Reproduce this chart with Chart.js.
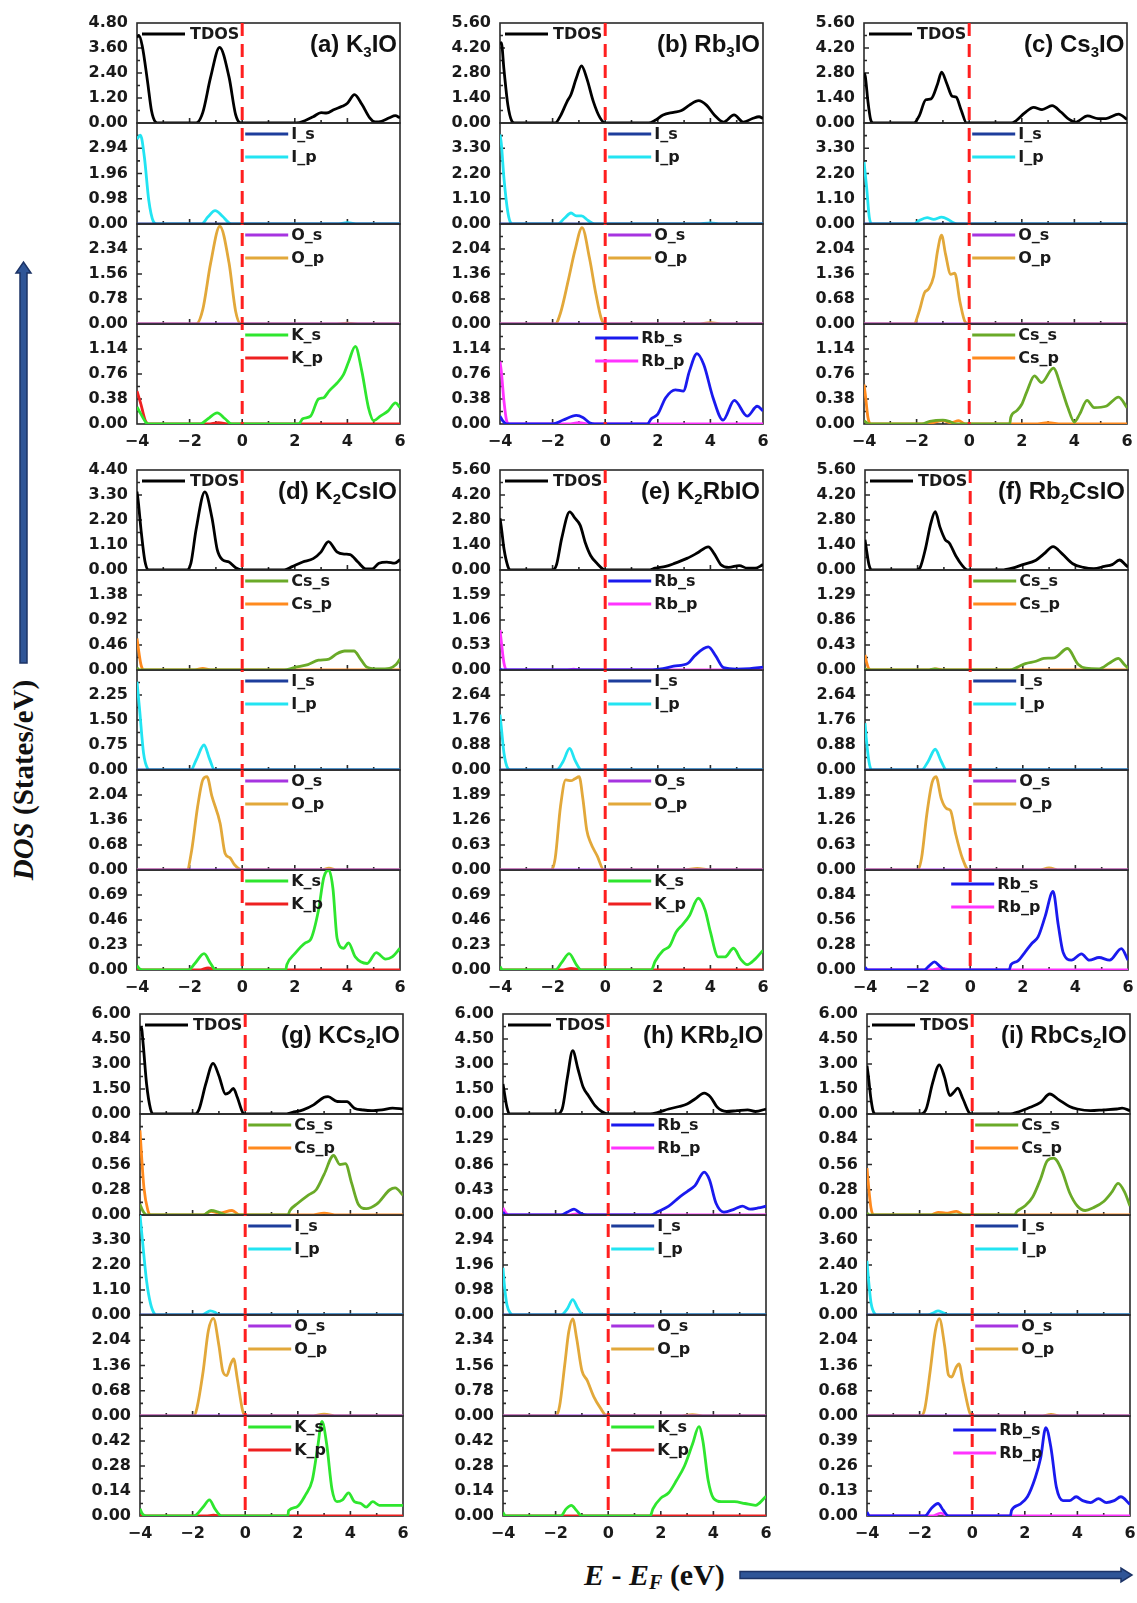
<!DOCTYPE html>
<html>
<head>
<meta charset="utf-8">
<script src="https://cdn.jsdelivr.net/npm/chart.js@4/dist/chart.umd.min.js"></script>
<style>
  html, body { margin: 0; padding: 0; background: #fff; }
  body { width: 1137px; height: 1603px; position: relative; overflow: hidden; }
  canvas.sub { position: absolute; }
  .title { position: absolute; font-family: "Liberation Sans", Arial, sans-serif; font-weight: bold;
           font-size: 24px; line-height: 24px; color: #111; white-space: nowrap; }
  .title .s { font-size: 15px; position: relative; top: 5px; }
  #ylab { position: absolute; left: -107px; top: 763px; width: 260px; height: 34px; line-height: 34px;
          text-align: center; transform: rotate(-90deg); font-family: "Liberation Serif", "Times New Roman", serif;
          font-weight: bold; font-size: 29px; color: #111; white-space: nowrap; }
  #xlab { position: absolute; left: 584px; top: 1557px; height: 36px; line-height: 36px;
          font-family: "Liberation Serif", "Times New Roman", serif; font-weight: bold; font-size: 30px;
          color: #111; white-space: nowrap; }
  #xlab sub { font-size: 20px; vertical-align: -4px; line-height: 0; }
  #arrows { position: absolute; left: 0; top: 0; }
</style>
</head>
<body>
<svg id="arrows" width="1137" height="1603">
  <polygon points="20,663 27,663 27,273 31,273 23.5,262 16,273 20,273" fill="#2f5597" stroke="#1c3366" stroke-width="1.5"/>
  <polygon points="740,1571.5 1121,1571.5 1121,1568 1132,1575 1121,1582 1121,1578.5 740,1578.5" fill="#2f5597" stroke="#1c3366" stroke-width="1.5"/>
</svg>
<div id="ylab"><i>DOS</i> (States/eV)</div>
<div id="xlab"><i>E</i> - <i>E<sub>F</sub></i> (eV)</div>
<script>
// ---------- energy axis ----------
const energyTicks = [-4, -2, 0, 2, 4, 6];
const flat = [[-4, 0], [6, 0]];

// ---------- (a) K3IO ----------
const stepsA = [1.20, 0.98, 0.78, 0.38];
const tdosA = [[-4,4.1],[-3.93,4.2],[-3.8,3.7],[-3.6,2.0],[-3.45,0.6],[-3.3,0.05],[-3.2,0],[-1.75,0],[-1.5,0.5],[-1.2,2.2],[-0.86,3.63],[-0.5,2.2],[-0.25,0.4],[-0.05,0],[2.05,0],[2.4,0.12],[2.7,0.3],[3.0,0.5],[3.2,0.48],[3.5,0.65],[3.8,0.8],[4.0,0.95],[4.27,1.36],[4.55,0.9],[4.85,0.25],[5.05,0.05],[5.3,0.08],[5.6,0.25],[5.82,0.35],[6,0.25]];
const ipA = [[-4,3.3],[-3.87,3.45],[-3.72,2.6],[-3.55,0.9],[-3.38,0.1],[-3.25,0],[-1.55,0],[-1.3,0.28],[-1.03,0.52],[-0.75,0.3],[-0.5,0.04],[-0.4,0],[3.6,0],[4.0,0.05],[4.4,0],[6,0]];
const opA = [[-4,0],[-1.75,0],[-1.5,0.45],[-1.2,1.9],[-0.85,3.05],[-0.5,1.9],[-0.25,0.4],[-0.05,0],[3.5,0],[4.0,0.03],[4.5,0],[6,0]];
const ksA = [[-4,0.26],[-3.85,0.15],[-3.65,0.02],[-3.5,0],[-1.6,0],[-1.3,0.08],[-0.95,0.17],[-0.65,0.08],[-0.4,0],[2.15,0],[2.3,0.08],[2.6,0.12],[2.9,0.38],[3.1,0.4],[3.3,0.5],[3.6,0.62],[3.85,0.75],[4.05,0.95],[4.3,1.18],[4.55,0.8],[4.8,0.25],[5.0,0.05],[5.25,0.12],[5.55,0.2],[5.83,0.32],[6,0.25]];
const kpA = [[-4,0.5],[-3.85,0.3],[-3.7,0.07],[-3.55,0],[-1.3,0],[-0.9,0.02],[-0.5,0],[6,0]];

// ---------- (b) Rb3IO ----------
const stepsB = [1.40, 1.10, 0.68, 0.38];
const tdosB = [[-4,4.4],[-3.95,4.5],[-3.85,3.0],[-3.7,1.0],[-3.55,0.1],[-3.45,0],[-1.9,0],[-1.7,0.4],[-1.45,1.2],[-1.3,1.6],[-1.1,2.5],[-0.9,3.2],[-0.7,2.5],[-0.45,1.2],[-0.2,0.3],[0,0],[1.65,0],[1.9,0.15],[2.2,0.45],[2.6,0.6],[2.9,0.7],[3.2,1.0],[3.55,1.25],[3.85,1.0],[4.15,0.45],[4.5,0.05],[4.9,0.45],[5.25,0.05],[5.6,0.25],[5.85,0.35],[6,0.25]];
const ipB = [[-4,3.9],[-3.95,3.5],[-3.85,2.0],[-3.7,0.5],[-3.58,0.03],[-3.5,0],[-1.8,0],[-1.55,0.25],[-1.3,0.48],[-1.1,0.35],[-0.9,0.35],[-0.65,0.15],[-0.4,0],[3.5,0],[4,0.05],[4.4,0],[6,0]];
const opB = [[-4,0],[-1.9,0],[-1.7,0.3],[-1.4,1.2],[-1.15,2.0],[-0.88,2.62],[-0.6,1.8],[-0.35,0.8],[-0.15,0.15],[0,0],[3.5,0],[4,0.04],[4.5,0],[6,0]];
const rbsB = [[-4,0.12],[-3.9,0.05],[-3.75,0],[-2.0,0],[-1.6,0.06],[-1.1,0.13],[-0.85,0.1],[-0.6,0.02],[-0.4,0],[1.6,0],[1.75,0.08],[2.0,0.15],[2.3,0.4],[2.67,0.52],[2.97,0.5],[3.2,0.8],[3.49,1.07],[3.75,0.9],[4.1,0.4],[4.48,0.06],[4.91,0.36],[5.4,0.12],[5.78,0.27],[6,0.2]];
const rbpB = [[-4,0.95],[-3.95,0.8],[-3.85,0.35],[-3.75,0.05],[-3.65,0],[-1.4,0],[-1.0,0.02],[-0.6,0],[6,0]];

// ---------- (c) Cs3IO ----------
const stepsC = [1.40, 1.10, 0.68, 0.38];
const tdosC = [[-4,2.8],[-3.95,2.6],[-3.85,1.2],[-3.75,0.2],[-3.65,0],[-2.1,0],[-1.9,0.4],[-1.65,1.3],[-1.45,1.35],[-1.2,2.2],[-1.05,2.85],[-0.85,2.2],[-0.65,1.5],[-0.5,1.45],[-0.3,0.7],[-0.1,0],[1.6,0],[1.8,0.15],[2.1,0.55],[2.45,0.88],[2.77,0.75],[3.15,0.97],[3.5,0.6],[3.8,0.2],[4.04,0.05],[4.5,0.4],[4.9,0.25],[5.2,0.25],[5.68,0.5],[6,0.2]];
const ipC = [[-4,2.7],[-3.9,1.6],[-3.8,0.3],[-3.7,0],[-2.1,0],[-1.9,0.15],[-1.6,0.28],[-1.35,0.2],[-1.05,0.3],[-0.8,0.2],[-0.6,0.05],[-0.45,0],[6,0]];
const opC = [[-4,0],[-2.1,0],[-1.9,0.35],[-1.7,0.85],[-1.55,0.95],[-1.35,1.3],[-1.2,2.0],[-1.05,2.42],[-0.9,1.9],[-0.7,1.35],[-0.55,1.38],[-0.35,0.6],[-0.15,0.05],[0,0],[6,0]];
const cssC = [[-4,0.05],[-3.9,0.02],[-3.8,0],[-1.8,0],[-1.5,0.04],[-1.0,0.06],[-0.7,0.03],[-0.5,0],[1.54,0],[1.58,0.1],[1.8,0.2],[2.0,0.3],[2.2,0.5],[2.48,0.73],[2.75,0.63],[3.2,0.85],[3.5,0.55],[3.75,0.25],[4.0,0.03],[4.2,0.15],[4.48,0.36],[4.75,0.25],[5.2,0.27],[5.68,0.41],[6,0.25]];
const cspC = [[-4,0.6],[-3.95,0.45],[-3.85,0.1],[-3.75,0],[-1.6,0],[-1.3,0.03],[-1.0,0.05],[-0.7,0.02],[-0.4,0.05],[-0.15,0],[2.5,0],[3,0.02],[3.5,0],[6,0]];

// ---------- (d) K2CsIO ----------
const stepsD = [1.10, 0.46, 0.75, 0.68, 0.23];
const tdosD = [[-4,3.45],[-3.95,3.0],[-3.85,1.8],[-3.7,0.4],[-3.55,0],[-2.1,0],[-1.95,0.3],[-1.75,1.8],[-1.42,3.44],[-1.15,2.3],[-0.95,0.9],[-0.75,0.45],[-0.5,0.35],[-0.25,0.1],[0,0],[1.6,0],[1.9,0.15],[2.3,0.35],[2.7,0.5],[3.0,0.8],[3.28,1.25],[3.6,0.8],[3.9,0.7],[4.1,0.68],[4.4,0.35],[4.7,0.05],[4.95,0.05],[5.2,0.3],[5.5,0.35],[5.8,0.3],[6,0.45]];
const cssD = [[-4,0.04],[-3.9,0],[1.6,0],[2.0,0.05],[2.5,0.1],[2.9,0.18],[3.3,0.2],[3.6,0.3],[3.9,0.35],[4.25,0.35],[4.5,0.2],[4.75,0.05],[5.2,0.02],[5.6,0.03],[5.85,0.1],[6,0.2]];
const cspD = [[-4,0.58],[-3.95,0.4],[-3.85,0.1],[-3.75,0],[-1.8,0],[-1.5,0.03],[-1.2,0],[6,0]];
const ipD = [[-4,2.65],[-3.9,1.8],[-3.75,0.5],[-3.6,0.05],[-3.5,0],[-1.95,0],[-1.75,0.3],[-1.45,0.75],[-1.25,0.35],[-1.05,0],[6,0]];
const opD = [[-4,0],[-2.1,0],[-1.92,0.54],[-1.7,1.7],[-1.5,2.45],[-1.34,2.54],[-1.15,2.0],[-0.84,1.27],[-0.65,0.45],[-0.46,0.33],[-0.3,0.15],[0,0],[3.0,0],[3.3,0.05],[3.6,0],[6,0]];
const ksD = [[-4,0.04],[-3.9,0.01],[-3.8,0],[-2.05,0],[-1.8,0.06],[-1.45,0.15],[-1.2,0.06],[-1.0,0],[1.65,0],[1.7,0.05],[2.0,0.15],[2.4,0.25],[2.6,0.28],[2.9,0.55],[3.1,0.85],[3.29,0.92],[3.45,0.75],[3.61,0.29],[3.86,0.2],[4.04,0.25],[4.3,0.12],[4.75,0.06],[5.1,0.16],[5.45,0.1],[5.7,0.12],[6,0.2]];
const kpD = [[-4,0],[-1.6,0],[-1.3,0.02],[-1.0,0],[6,0]];

// ---------- (e) K2RbIO ----------
const stepsE = [1.40, 0.53, 0.88, 0.63, 0.23];
const tdosE = [[-4,2.9],[-3.95,2.4],[-3.85,1.2],[-3.7,0.2],[-3.6,0],[-2.0,0],[-1.85,0.3],[-1.65,1.8],[-1.35,3.25],[-1.15,2.9],[-0.95,2.5],[-0.75,1.5],[-0.55,0.8],[-0.3,0.35],[0,0],[1.65,0],[1.9,0.1],[2.3,0.2],[2.6,0.35],[3.11,0.65],[3.5,0.95],[3.92,1.3],[4.15,0.9],[4.4,0.3],[4.7,0.15],[5.1,0.25],[5.4,0.1],[5.7,0.1],[6,0.3]];
const rbsE = [[-4,0.02],[-3.9,0],[1.7,0],[2.2,0.03],[2.6,0.08],[3.14,0.14],[3.4,0.3],[3.92,0.49],[4.2,0.3],[4.5,0.05],[5.0,0.02],[5.5,0.03],[6,0.06]];
const rbpE = [[-4,0.85],[-3.95,0.6],[-3.85,0.15],[-3.75,0],[-1.5,0],[-1.2,0.02],[-0.9,0],[6,0]];
const ipE = [[-4,1.95],[-3.95,1.5],[-3.85,0.6],[-3.7,0.05],[-3.6,0],[-1.85,0],[-1.6,0.3],[-1.35,0.76],[-1.15,0.35],[-0.9,0],[6,0]];
const opE = [[-4,0],[-2.05,0],[-1.9,0.3],[-1.7,1.6],[-1.5,2.27],[-1.3,2.25],[-1.15,2.3],[-0.99,2.35],[-0.85,1.8],[-0.7,1.0],[-0.57,0.71],[-0.3,0.35],[-0.05,0],[3,0],[3.5,0.04],[4,0],[6,0]];
const ksE = [[-4,0.03],[-3.9,0],[-1.9,0],[-1.65,0.07],[-1.37,0.15],[-1.1,0.05],[-0.9,0],[1.75,0],[1.9,0.08],[2.2,0.18],[2.45,0.22],[2.7,0.35],[2.95,0.42],[3.2,0.5],[3.54,0.66],[3.8,0.55],[4.0,0.35],[4.3,0.12],[4.55,0.12],[4.88,0.2],[5.15,0.1],[5.4,0.05],[5.7,0.1],[6,0.18]];
const kpE = [[-4,0],[-1.6,0],[-1.3,0.015],[-0.9,0],[6,0]];

// ---------- (f) Rb2CsIO ----------
const stepsF = [1.40, 0.43, 0.88, 0.63, 0.28];
const tdosF = [[-4,1.7],[-3.95,1.2],[-3.85,0.3],[-3.75,0],[-2.05,0],[-1.9,0.15],[-1.7,1.2],[-1.5,2.6],[-1.33,3.27],[-1.15,2.4],[-0.95,1.7],[-0.79,1.5],[-0.55,0.8],[-0.3,0.25],[-0.1,0],[1.2,0],[1.6,0.1],[2.0,0.3],[2.5,0.55],[2.8,0.9],[3.15,1.31],[3.5,0.9],[3.9,0.35],[4.3,0.15],[4.7,0.08],[5.1,0.2],[5.4,0.3],[5.68,0.56],[5.9,0.3],[6,0.15]];
const cssF = [[-4,0.02],[-3.9,0],[-1.6,0],[-1.35,0.02],[-1.1,0],[1.5,0],[1.8,0.05],[2.1,0.11],[2.5,0.15],[2.8,0.2],[3.2,0.21],[3.7,0.37],[4.1,0.1],[4.4,0.03],[4.9,0.02],[5.3,0.12],[5.63,0.2],[5.85,0.1],[6,0.03]];
const cspF = [[-4,0.26],[-3.95,0.15],[-3.85,0.02],[-3.75,0],[-1.6,0],[-1.3,0.02],[-1.0,0],[6,0]];
const ipF = [[-4,1.65],[-3.95,1.1],[-3.85,0.3],[-3.75,0],[-1.85,0],[-1.6,0.3],[-1.33,0.73],[-1.1,0.3],[-0.9,0],[6,0]];
const opF = [[-4,0],[-2.0,0],[-1.85,0.3],[-1.65,1.4],[-1.45,2.2],[-1.3,2.35],[-1.1,1.8],[-0.9,1.55],[-0.75,1.5],[-0.55,0.9],[-0.3,0.3],[-0.05,0],[2.6,0],[3.0,0.05],[3.4,0],[6,0]];
const rbsF = [[-4,0.03],[-3.9,0],[-1.75,0],[-1.55,0.05],[-1.36,0.09],[-1.15,0.04],[-0.95,0],[1.48,0],[1.55,0.06],[1.8,0.1],[2.06,0.19],[2.35,0.3],[2.58,0.37],[2.85,0.6],[3.15,0.88],[3.35,0.5],[3.53,0.2],[3.85,0.11],[4.23,0.18],[4.53,0.11],[4.9,0.14],[5.3,0.11],[5.75,0.24],[6,0.11]];
const rbpF = [[-4,0],[-1.5,0],[-1.1,0.02],[-0.7,0],[6,0]];

// ---------- (g) KCs2IO ----------
const stepsG = [1.50, 0.28, 1.10, 0.68, 0.14];
const tdosG = [[-4,5.0],[-3.95,5.2],[-3.88,4.2],[-3.75,1.8],[-3.6,0.3],[-3.5,0],[-1.9,0],[-1.75,0.3],[-1.5,1.8],[-1.22,3.04],[-1.0,2.3],[-0.75,1.2],[-0.6,1.3],[-0.45,1.54],[-0.3,1.0],[-0.1,0.1],[0,0],[1.5,0],[1.8,0.1],[2.2,0.25],[2.6,0.55],[3.0,1.0],[3.15,1.04],[3.5,0.75],[3.87,0.74],[4.15,0.35],[4.5,0.24],[4.8,0.2],[5.2,0.25],[5.6,0.35],[6,0.3]];
const cssG = [[-4,0.12],[-3.9,0.05],[-3.75,0],[-1.6,0],[-1.3,0.05],[-1.0,0.03],[-0.7,0],[1.62,0],[1.7,0.05],[2.0,0.13],[2.4,0.22],[2.7,0.28],[3.0,0.45],[3.36,0.66],[3.6,0.56],[3.81,0.57],[4.05,0.35],[4.3,0.12],[4.6,0.07],[5.0,0.12],[5.5,0.28],[5.7,0.3],[6,0.22]];
const cspG = [[-4,0.94],[-3.95,0.7],[-3.85,0.3],[-3.7,0.05],[-3.6,0],[-1.6,0],[-1.3,0.04],[-1.0,0.02],[-0.5,0.05],[-0.2,0],[2.5,0],[3,0.02],[3.5,0],[6,0]];
const ipG = [[-4,4.4],[-3.9,3.2],[-3.75,1.5],[-3.6,0.5],[-3.45,0.05],[-3.36,0],[-1.65,0],[-1.45,0.12],[-1.33,0.18],[-1.15,0.12],[-1.0,0],[6,0]];
const opG = [[-4,0],[-1.95,0],[-1.84,0.2],[-1.6,1.2],[-1.4,2.3],[-1.21,2.63],[-1.0,1.9],[-0.85,1.2],[-0.7,1.09],[-0.55,1.4],[-0.44,1.54],[-0.3,1.0],[-0.1,0.15],[0,0],[2.5,0],[3,0.05],[3.5,0],[6,0]];
const ksG = [[-4,0.04],[-3.9,0.01],[-3.75,0],[-1.95,0],[-1.6,0.05],[-1.36,0.09],[-1.15,0.04],[-0.9,0],[1.62,0],[1.65,0.03],[1.95,0.05],[2.3,0.12],[2.55,0.2],[2.75,0.38],[2.92,0.53],[3.1,0.4],[3.3,0.15],[3.49,0.08],[3.7,0.09],[3.93,0.13],[4.15,0.08],[4.4,0.07],[4.6,0.05],[4.85,0.08],[5.1,0.06],[5.5,0.06],[6,0.06]];
const kpG = [[-4,0],[-1.5,0],[-1.2,0.005],[-0.9,0],[6,0]];

// ---------- (h) KRb2IO ----------
const stepsH = [1.50, 0.43, 0.98, 0.78, 0.14];
const tdosH = [[-4,1.8],[-3.95,1.3],[-3.85,0.4],[-3.75,0],[-1.95,0],[-1.75,0.3],[-1.55,2.2],[-1.35,3.8],[-1.15,2.7],[-0.95,1.6],[-0.75,1.1],[-0.5,0.5],[-0.25,0.15],[0,0],[1.6,0],[1.9,0.1],[2.3,0.3],[2.7,0.45],[3.0,0.6],[3.3,0.9],[3.65,1.25],[3.9,1.0],[4.15,0.4],[4.5,0.15],[4.9,0.2],[5.3,0.25],[5.6,0.15],[6,0.3]];
const rbsH = [[-4,0.05],[-3.9,0],[-1.8,0],[-1.55,0.05],[-1.3,0.1],[-1.05,0.03],[-0.8,0],[1.6,0],[1.9,0.06],[2.3,0.15],[2.7,0.3],[3.0,0.4],[3.3,0.5],[3.65,0.73],[3.85,0.6],[4.1,0.2],[4.4,0.05],[4.8,0.1],[5.1,0.15],[5.4,0.1],[5.7,0.12],[6,0.15]];
const rbpH = [[-4,0.12],[-3.9,0.04],[-3.8,0],[-1.5,0],[-1.2,0.02],[-0.9,0],[6,0]];
const ipH = [[-4,1.85],[-3.95,1.2],[-3.85,0.4],[-3.7,0.05],[-3.6,0],[-1.8,0],[-1.55,0.25],[-1.35,0.6],[-1.15,0.25],[-0.95,0],[6,0]];
const opH = [[-4,0],[-2.0,0],[-1.85,0.3],[-1.65,1.6],[-1.5,2.6],[-1.35,3.0],[-1.2,2.4],[-1.0,1.4],[-0.8,1.1],[-0.55,0.6],[-0.3,0.25],[-0.05,0],[2.7,0],[3.2,0.04],[3.7,0],[6,0]];
const ksH = [[-4,0.02],[-3.9,0],[-1.8,0],[-1.6,0.04],[-1.4,0.06],[-1.2,0.03],[-1.0,0],[1.6,0],[1.7,0.04],[2.0,0.1],[2.3,0.13],[2.6,0.2],[2.9,0.28],[3.2,0.4],[3.45,0.5],[3.6,0.42],[3.8,0.2],[4.0,0.1],[4.3,0.08],[4.8,0.08],[5.2,0.07],[5.6,0.06],[6,0.11]];
const kpH = flat;

// ---------- (i) RbCs2IO ----------
const stepsI = [1.50, 0.28, 1.20, 0.68, 0.13];
const tdosI = [[-4,2.9],[-3.95,2.3],[-3.85,0.9],[-3.75,0.1],[-3.65,0],[-1.95,0],[-1.75,0.3],[-1.5,1.9],[-1.25,2.95],[-1.05,2.2],[-0.85,1.1],[-0.7,1.3],[-0.55,1.55],[-0.35,0.9],[-0.1,0.05],[0,0],[1.4,0],[1.8,0.15],[2.2,0.4],[2.6,0.7],[2.95,1.2],[3.3,0.85],[3.7,0.45],[4.0,0.3],[4.5,0.2],[5.0,0.25],[5.5,0.3],[5.7,0.35],[6,0.2]];
const cssI = [[-4,0.02],[-3.9,0],[1.6,0],[1.7,0.04],[2.0,0.1],[2.3,0.2],[2.6,0.4],[2.85,0.6],[3.1,0.63],[3.4,0.5],[3.7,0.25],[4.0,0.1],[4.3,0.05],[4.6,0.08],[5.0,0.15],[5.3,0.25],[5.55,0.35],[5.8,0.25],[6,0.1]];
const cspI = [[-4,0.52],[-3.95,0.35],[-3.85,0.08],[-3.75,0],[-1.6,0],[-1.3,0.03],[-1.0,0.02],[-0.6,0.04],[-0.3,0],[6,0]];
const ipI = [[-4,2.6],[-3.95,1.8],[-3.85,0.6],[-3.7,0.05],[-3.6,0],[-1.7,0],[-1.45,0.12],[-1.3,0.2],[-1.1,0.1],[-0.9,0],[6,0]];
const opI = [[-4,0],[-1.95,0],[-1.8,0.2],[-1.6,1.2],[-1.4,2.3],[-1.25,2.62],[-1.05,1.9],[-0.9,1.1],[-0.78,1.05],[-0.62,1.3],[-0.5,1.4],[-0.35,0.9],[-0.1,0.1],[0,0],[2.6,0],[3.0,0.04],[3.4,0],[6,0]];
const rbsI = [[-4,0.02],[-3.9,0],[-1.8,0],[-1.55,0.04],[-1.3,0.065],[-1.1,0.03],[-0.9,0],[1.45,0],[1.5,0.03],[1.8,0.06],[2.1,0.1],[2.4,0.2],[2.6,0.3],[2.8,0.46],[3.0,0.35],[3.2,0.15],[3.45,0.08],[3.7,0.08],[3.95,0.1],[4.2,0.08],[4.5,0.07],[4.8,0.09],[5.1,0.07],[5.4,0.08],[5.65,0.1],[6,0.06]];
const rbpI = [[-4,0],[-1.5,0],[-1.2,0.015],[-0.9,0],[6,0]];

// ---------- colours ----------
const C = {
  tdos: '#000000', is: '#1d3d9c', ip: '#22e4f2', os: '#a634e0', op: '#e2a83a',
  ks: '#2ee62e', kp: '#ee2020', rbs: '#1a1aee', rbp: '#ff33ff', css: '#6aaa28', csp: '#ff8a1e'
};

// ---------- layout ----------
const PLOT_W = 263;
const rows = [
  { top: 23, bottom: 424, n: 4, lefts: [137, 500, 864] },
  { top: 470, bottom: 970, n: 5, lefts: [137, 500, 865] },
  { top: 1014, bottom: 1516, n: 5, lefts: [140, 503, 867] }
];

const S = (label, data, color) => ({ label, data, color });
const tdosSub = d => ({ items: [S('TDOS', d, C.tdos)], tdos: true });
const sub = (items, dx = 0, dy = 0) => ({ items, dx, dy });
const iSub = p => sub([S('I_s', flat, C.is), S('I_p', p, C.ip)]);
const oSub = p => sub([S('O_s', flat, C.os), S('O_p', p, C.op)]);
const kSub = (s, p) => sub([S('K_s', s, C.ks), S('K_p', p, C.kp)]);
const rbSub = (s, p, dx = 0, dy = 0) => sub([S('Rb_s', s, C.rbs), S('Rb_p', p, C.rbp)], dx, dy);
const csSub = (s, p) => sub([S('Cs_s', s, C.css), S('Cs_p', p, C.csp)]);

const panels = [
  { row: 0, col: 0, title: ['(a) K', '3', 'IO'], steps: stepsA,
    subs: [tdosSub(tdosA), iSub(ipA), oSub(opA), kSub(ksA, kpA)] },
  { row: 0, col: 1, title: ['(b) Rb', '3', 'IO'], steps: stepsB,
    subs: [tdosSub(tdosB), iSub(ipB), oSub(opB), rbSub(rbsB, rbpB, -13, 3)] },
  { row: 0, col: 2, title: ['(c) Cs', '3', 'IO'], steps: stepsC,
    subs: [tdosSub(tdosC), iSub(ipC), oSub(opC), csSub(cssC, cspC)] },
  { row: 1, col: 0, title: ['(d) K', '2', 'CsIO'], steps: stepsD,
    subs: [tdosSub(tdosD), csSub(cssD, cspD), iSub(ipD), oSub(opD), kSub(ksD, kpD)] },
  { row: 1, col: 1, title: ['(e) K', '2', 'RbIO'], steps: stepsE,
    subs: [tdosSub(tdosE), rbSub(rbsE, rbpE), iSub(ipE), oSub(opE), kSub(ksE, kpE)] },
  { row: 1, col: 2, title: ['(f) Rb', '2', 'CsIO'], steps: stepsF,
    subs: [tdosSub(tdosF), csSub(cssF, cspF), iSub(ipF), oSub(opF), rbSub(rbsF, rbpF, -22, 3)] },
  { row: 2, col: 0, title: ['(g) KCs', '2', 'IO'], steps: stepsG,
    subs: [tdosSub(tdosG), csSub(cssG, cspG), iSub(ipG), oSub(opG), kSub(ksG, kpG)] },
  { row: 2, col: 1, title: ['(h) KRb', '2', 'IO'], steps: stepsH,
    subs: [tdosSub(tdosH), rbSub(rbsH, rbpH), iSub(ipH), oSub(opH), kSub(ksH, kpH)] },
  { row: 2, col: 2, title: ['(i) RbCs', '2', 'IO'], steps: stepsI,
    subs: [tdosSub(tdosI), csSub(cssI, cspI), iSub(ipI), oSub(opI), rbSub(rbsI, rbpI, -22, 3)] }
];

// ---------- drawing ----------
const TICK_FONT = { family: '"DejaVu Sans", sans-serif', weight: 'bold', size: 16 };
const TEXT_COLOR = '#1a1a1a';
const AXIS_COLOR = '#2a2a2a';
const GUTTER = 110, PAD_T = 24, PAD_R = 16, PAD_B = 24, XAXIS_H = 34;

function fmtEnergy(v) { return v < 0 ? '\u2212' + Math.abs(v) : String(v); }

function decorPlugin(info) {
  return {
    id: 'decor',
    beforeDatasetsDraw(chart) {
      const { ctx, chartArea: a, scales: { x, y } } = chart;
      ctx.save();
      ctx.strokeStyle = AXIS_COLOR;
      ctx.lineWidth = 1.6;
      ctx.strokeRect(a.left, a.top, a.right - a.left, a.bottom - a.top);
      ctx.beginPath();
      for (let v = -3; v <= 5; v++) {
        const px = x.getPixelForValue(v);
        const len = v % 2 === 0 ? 5 : 3;
        ctx.moveTo(px, a.bottom); ctx.lineTo(px, a.bottom - len);
      }
      for (let k = 0; k < 4; k++) {
        const pm = y.getPixelForValue((k + 0.5) * info.step);
        ctx.moveTo(a.left, pm); ctx.lineTo(a.left + 3, pm);
        if (k > 0) {
          const pj = y.getPixelForValue(k * info.step);
          ctx.moveTo(a.left, pj); ctx.lineTo(a.left + 5, pj);
        }
      }
      ctx.stroke();
      ctx.restore();
    },
    afterDatasetsDraw(chart) {
      const { ctx, chartArea: a, scales: { x } } = chart;
      const x0 = x.getPixelForValue(0);
      ctx.save();
      // Fermi level
      ctx.strokeStyle = '#ff1f1f';
      ctx.lineWidth = 3;
      ctx.setLineDash([13, 8]);
      ctx.lineDashOffset = info.dashOffset;
      ctx.beginPath();
      ctx.moveTo(x0, a.top); ctx.lineTo(x0, a.bottom);
      ctx.stroke();
      ctx.setLineDash([]);
      // legend
      ctx.font = 'bold 16px "DejaVu Sans", sans-serif';
      ctx.textBaseline = 'middle';
      ctx.fillStyle = TEXT_COLOR;
      const lx = info.tdos ? a.left + 5 : x0 + 3 + info.dx;
      const ly = info.tdos ? a.top + 11 : a.top + 11 + info.dy;
      info.items.forEach((it, i) => {
        const yy = ly + i * 23;
        ctx.strokeStyle = it.color;
        ctx.lineWidth = 3;
        ctx.beginPath();
        ctx.moveTo(lx, yy); ctx.lineTo(lx + 43, yy);
        ctx.stroke();
        ctx.fillText(it.label, lx + (info.tdos ? 48 : 46), yy + 1);
      });
      ctx.restore();
    }
  };
}

function makeSub(left, top, h, step, isTop, isBottom, s, dashOffset) {
  const cv = document.createElement('canvas');
  cv.className = 'sub';
  const W = GUTTER + PLOT_W + PAD_R;
  const H = PAD_T + h + (isBottom ? XAXIS_H : PAD_B);
  cv.width = W; cv.height = H;
  cv.style.left = (left - GUTTER) + 'px';
  cv.style.top = (top - PAD_T) + 'px';
  document.body.appendChild(cv);

  const datasets = s.items.map(it => ({
    label: it.label,
    data: it.data.map(p => ({ x: p[0], y: p[1] })),
    borderColor: it.color,
    borderWidth: 2.8,
    pointRadius: 0,
    fill: false,
    cubicInterpolationMode: 'monotone'
  }));

  new Chart(cv, {
    type: 'line',
    data: { datasets },
    options: {
      responsive: false, animation: false, devicePixelRatio: 1, events: [],
      layout: { padding: { top: PAD_T, right: PAD_R, bottom: isBottom ? 0 : PAD_B, left: 0 } },
      plugins: { legend: { display: false }, tooltip: { enabled: false } },
      scales: {
        x: {
          type: 'linear', min: -4, max: 6, display: isBottom,
          grid: { display: false, drawTicks: false }, border: { display: false },
          afterBuildTicks: sc => { sc.ticks = energyTicks.map(v => ({ value: v })); },
          afterFit: sc => { sc.height = isBottom ? XAXIS_H : 0; },
          ticks: { padding: 8, font: TICK_FONT, color: TEXT_COLOR, maxRotation: 0, autoSkip: false,
                   callback: v => fmtEnergy(v) }
        },
        y: {
          type: 'linear', min: 0, max: 4 * step,
          grid: { display: false, drawTicks: false }, border: { display: false },
          afterBuildTicks: sc => { sc.ticks = [0, 1, 2, 3, 4].map(k => ({ value: k * step })); },
          afterFit: sc => { sc.width = GUTTER; },
          ticks: { padding: 9, font: TICK_FONT, color: TEXT_COLOR,
                   callback: (v, i) => (i === 4 && !isTop) ? '' : Number(v).toFixed(2) }
        }
      }
    },
    plugins: [decorPlugin({ step, items: s.items, tdos: !!s.tdos, dx: s.dx || 0, dy: s.dy || 0, dashOffset })]
  });
}

panels.forEach(p => {
  const r = rows[p.row];
  const left = r.lefts[p.col];
  const hh = (r.bottom - r.top) / r.n;
  p.subs.forEach((s, i) => {
    const t = Math.round(r.top + i * hh);
    const b = Math.round(r.top + (i + 1) * hh);
    makeSub(left, t, b - t, p.steps[i], i === 0, i === r.n - 1, s, t - r.top);
  });
  const tt = document.createElement('div');
  tt.className = 'title';
  tt.innerHTML = p.title[0] + '<span class="s">' + p.title[1] + '</span>' + p.title[2];
  document.body.appendChild(tt);
  tt.style.left = (left + PLOT_W - 3 - tt.offsetWidth) + 'px';
  tt.style.top = (r.top + 9) + 'px';
});
</script>
</body>
</html>
